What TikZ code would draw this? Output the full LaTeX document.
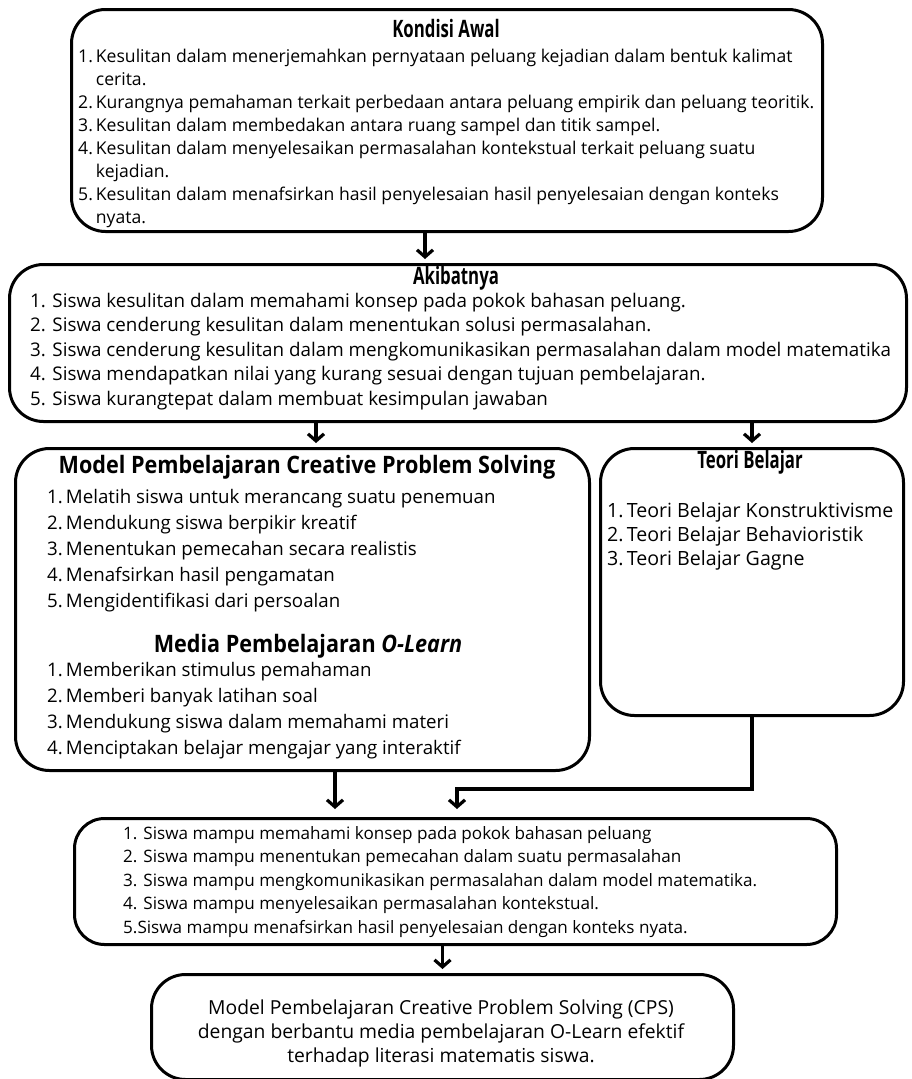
\documentclass[tikz,border=0pt]{standalone}
\usepackage{fontspec}
\setmainfont{Open Sans}
\newfontfamily\headfont{Open Sans}[FakeStretch=0.7]
\newfontfamily\titlefont{Open Sans}[FakeStretch=0.9]
\usetikzlibrary{arrows.meta,positioning}

\tikzset{
  box/.style={draw=black, line width=3pt, rounded corners=34pt, inner sep=0pt, anchor=north west},
  head/.style={font=\headfont\bfseries\fontsize{24}{26}\selectfont, inner sep=0pt},
  title/.style={font=\titlefont\bfseries\fontsize{24}{26}\selectfont, inner sep=0pt},
  list/.style={anchor=north west, inner sep=0pt, align=left},
  arr/.style={line width=3.2pt, -{Straight Barb[length=7pt,width=16pt]}, shorten >=4pt},
}

\begin{document}
\begin{tikzpicture}[x=1pt,y=-1pt]
\useasboundingbox (0,0) rectangle (911,1079);

% boxes
\node[box, minimum width=751, minimum height=222] (kondisi) at (70,8) {};
\node[box, minimum width=897, minimum height=157] (akibat) at (8,263) {};
\node[box, minimum width=574, minimum height=322] (model) at (14,447) {};
\node[box, minimum width=303, minimum height=267] (teori) at (599,447) {};
\node[box, minimum width=762, minimum height=126, rounded corners=30pt] (hasil) at (73,817) {};
\node[box, minimum width=582, minimum height=105] (simpulan) at (150,973) {};

% kondisi awal
\node[head] (kondisiHead) at (446,28) {Kondisi Awal};
\node[list, font=\fontsize{17.6}{23}\selectfont] (kondisiList) at (78,46) {%
\begin{tabular}{@{}l@{\,}l@{}}
1. & Kesulitan dalam menerjemahkan pernyataan peluang kejadian dalam bentuk kalimat\\
   & cerita.\\
2. & Kurangnya pemahaman terkait perbedaan antara peluang empirik dan peluang teoritik.\\
3. & Kesulitan dalam membedakan antara ruang sampel dan titik sampel.\\
4. & Kesulitan dalam menyelesaikan permasalahan kontekstual terkait peluang suatu\\
   & kejadian.\\
5. & Kesulitan dalam menafsirkan hasil penyelesaian hasil penyelesaian dengan konteks\\
   & nyata.
\end{tabular}};

% akibatnya
\node[head] (akibatHead) at (456,278) {Akibatnya};
\node[list, font=\fontsize{18.8}{24.5}\selectfont] (akibatList) at (30,293) {%
1. Siswa kesulitan dalam memahami konsep pada pokok bahasan peluang.\\
2. Siswa cenderung kesulitan dalam menentukan solusi permasalahan.\\
3. Siswa cenderung kesulitan dalam mengkomunikasikan permasalahan dalam model matematika\\
4. Siswa mendapatkan nilai yang kurang sesuai dengan tujuan pembelajaran.\\
5. Siswa kurangtepat dalam membuat kesimpulan jawaban};

% model CPS + media
\node[title] (modelHead) at (307,467) {Model Pembelajaran Creative Problem Solving};
\node[list, font=\fontsize{18.7}{26}\selectfont] (modelList) at (47,485) {%
\begin{tabular}{@{}l@{\,}l@{}}
1. & Melatih siswa untuk merancang suatu penemuan\\
2. & Mendukung siswa berpikir kreatif\\
3. & Menentukan pemecahan secara realistis\\
4. & Menafsirkan hasil pengamatan\\
5. & Mengidentifikasi dari persoalan
\end{tabular}};
\node[title] (mediaHead) at (308,646) {Media Pembelajaran \textit{O-Learn}};
\node[list, font=\fontsize{18.7}{26}\selectfont] (mediaList) at (47,658) {%
\begin{tabular}{@{}l@{\,}l@{}}
1. & Memberikan stimulus pemahaman\\
2. & Memberi banyak latihan soal\\
3. & Mendukung siswa dalam memahami materi\\
4. & Menciptakan belajar mengajar yang interaktif
\end{tabular}};

% teori belajar
\node[head] (teoriHead) at (750,462) {Teori Belajar};
\node[list, font=\fontsize{19.6}{24}\selectfont] (teoriList) at (607,500) {%
\begin{tabular}{@{}l@{\,}l@{}}
1. & Teori Belajar Konstruktivisme\\
2. & Teori Belajar Behavioristik\\
3. & Teori Belajar Gagne
\end{tabular}};

% hasil
\node[list, font=\fontsize{17.1}{23.5}\selectfont] (hasilList) at (123,826) {%
1. Siswa mampu memahami konsep pada pokok bahasan peluang\\
2. Siswa mampu menentukan pemecahan dalam suatu permasalahan\\
3. Siswa mampu mengkomunikasikan permasalahan dalam model matematika.\\
4. Siswa mampu menyelesaikan permasalahan kontekstual.\\
5.Siswa mampu menafsirkan hasil penyelesaian dengan konteks nyata.};

% kesimpulan
\node[inner sep=0pt, align=center, font=\fontsize{19.3}{24}\selectfont] (simpulanText) at (441,1033) {%
Model Pembelajaran Creative Problem Solving (CPS)\\
dengan berbantu media pembelajaran O-Learn efektif\\
terhadap literasi matematis siswa.};

% arrows
\coordinate (tb) at (457,789);
\draw[arr] (kondisi.south -| 425,0) -- (akibat.north -| 425,0);
\draw[arr] (akibat.south -| 316,0) -- (model.north -| 316,0);
\draw[arr] (akibat.south -| teori.north) -- (teori.north);
\draw[arr, shorten >=8pt] (model.south -| 335,0) -- (hasil.north -| 335,0);
\draw[arr, shorten >=8pt] (teori.south) |- (tb) -- (hasil.north -| tb);
\draw[arr] (hasil.south -| simpulan.north) -- (simpulan.north);
\end{tikzpicture}
\end{document}
